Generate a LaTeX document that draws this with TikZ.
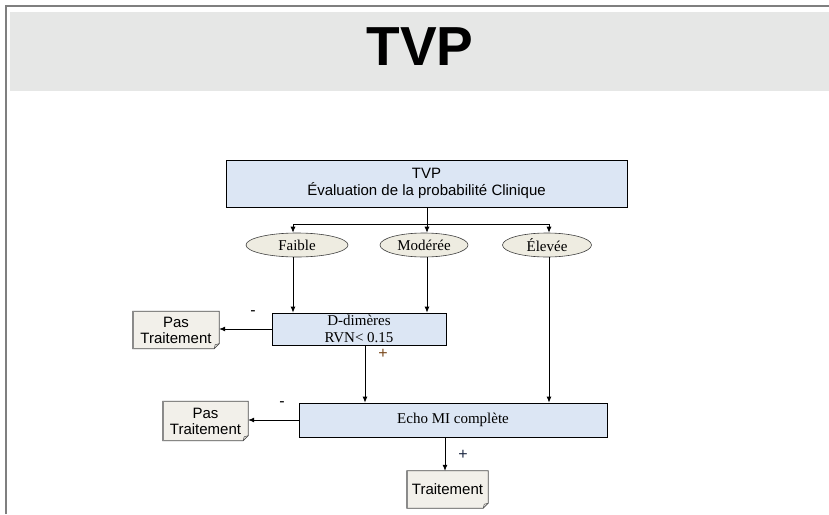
\documentclass[tikz,border=0pt]{standalone}
\usepackage{fontspec}
\setmainfont{Liberation Serif}
\setsansfont{Liberation Sans}
\usetikzlibrary{arrows.meta,shapes.geometric,backgrounds}

\definecolor{bandgray}{HTML}{E6E7E6}
\definecolor{framegray}{HTML}{7F7F7F}
\definecolor{boxblue}{HTML}{DCE6F4}
\definecolor{ovalbeige}{HTML}{EEECE1}
\definecolor{notebeige}{HTML}{F2F0EA}
\definecolor{plusbrown}{HTML}{7A4A1E}
\definecolor{plusnavy}{HTML}{1F2A44}

\tikzset{
  blueblock/.style={draw=black, line width=0.8pt, fill=boxblue, inner sep=0pt,
    align=center, font=\fontsize{15}{17}\selectfont},
  oval/.style={ellipse, draw=black!75, line width=0.6pt, fill=ovalbeige, inner sep=0pt,
    font=\fontsize{15}{17}\selectfont},
  notebox/.style={inner sep=0pt, align=center, font=\sffamily\fontsize{15}{16}\selectfont},
  flow/.style={line width=0.8pt, -{Latex[length=6pt,width=5pt]}},
  link/.style={line width=0.8pt},
  sign/.style={font=\sffamily\fontsize{16}{16}\selectfont, inner sep=0pt},
}

% note with a folded bottom-right corner, drawn behind the node text
\newcommand{\foldednote}[1]{%
  \begin{scope}[on background layer]
    \filldraw[fill=notebeige, draw=black!70, line width=0.7pt]
      (#1.north west) -- (#1.north east) -- ([yshift=5pt]#1.south east)
      -- ([xshift=-5pt]#1.south east) -- (#1.south west) -- cycle;
    \draw[black!70, line width=0.5pt]
      ([yshift=5pt]#1.south east) -- ([xshift=-4pt,yshift=4pt]#1.south east)
      -- ([xshift=-5pt]#1.south east);
    \draw[black!45, line width=1.2pt]
      ([xshift=0.6pt]#1.north west) -- ([xshift=0.6pt]#1.south west);
  \end{scope}}

\begin{document}
\begin{tikzpicture}[x=1pt,y=-1pt]
  \useasboundingbox (0,0) rectangle (829,514);

  % page frame and title band
  \fill[bandgray] (10,12) rectangle (829,91);
  \draw[framegray, line width=2pt] (5.5,514) -- (5.5,6) -- (829,6);
  \node (title) at (420,47) {\sffamily\bfseries\fontsize{55}{55}\selectfont TVP};

  % main boxes
  \node[blueblock, minimum width=401pt, minimum height=47pt] (top) at (426.5,183.5)
    {\sffamily TVP\\ \sffamily Évaluation de la probabilité Clinique};

  \node[oval, minimum width=102pt, minimum height=24pt] (faible) at (297,245) {Faible};
  \node[oval, minimum width=88pt, minimum height=24pt] (moderee) at (424,245) {Modérée};
  \node[oval, minimum width=89pt, minimum height=24pt] (elevee) at (547,245) {Élevée};

  \node[blueblock, minimum width=174pt, minimum height=32pt] (dd) at (359,329)
    {D-dimères\\RVN< 0.15};
  \node[blueblock, minimum width=308pt, minimum height=34pt] (echo) at (453,420)
    {Echo MI complète};

  \node[notebox, minimum width=86pt, minimum height=37pt] (pt1) at (176,330)
    {Pas\\Traitement};
  \node[notebox, minimum width=85pt, minimum height=39pt] (pt2) at (205.5,421)
    {Pas\\Traitement};
  \node[notebox, minimum width=81pt, minimum height=37pt] (trait) at (447.5,489.5)
    {Traitement};
  \foldednote{pt1}
  \foldednote{pt2}
  \foldednote{trait}

  % branching below the first box
  \coordinate (jn) at (427,224);
  \coordinate (jl) at (293,224);
  \coordinate (jr) at (549,224);
  \draw[link] (top.south -| jn) -- (jn);
  \draw[link] (jl) -- (jr);
  \draw[flow] (jl) -- (jl |- faible.north);
  \draw[flow] (jn) -- (jn |- moderee.north);
  \draw[flow] (jr) -- (jr |- elevee.north);

  % levels towards the tests
  \draw[flow] (jl |- faible.south) -- (jl |- dd.north);
  \draw[flow] (jn |- moderee.south) -- (jn |- dd.north);
  \draw[flow] (jr |- elevee.south) -- (jr |- echo.north);

  % D-dimer outcomes
  \coordinate (ddout) at (365,345);
  \draw[flow] (dd.west) -- (dd.west -| pt1.east);
  \draw[flow] (ddout) -- (ddout |- echo.north);
  \node[sign] (m1) at (253,313) {-};
  \node[sign, text=plusbrown] (p1) at (383,354) {+};

  % ultrasound outcomes
  \coordinate (echoout) at (445,437);
  \draw[flow] (echo.west) -- (echo.west -| pt2.east);
  \draw[flow] (echoout) -- (echoout |- trait.north);
  \node[sign] (m2) at (282,404) {-};
  \node[sign, text=plusnavy] (p2) at (463,455) {+};
\end{tikzpicture}
\end{document}
